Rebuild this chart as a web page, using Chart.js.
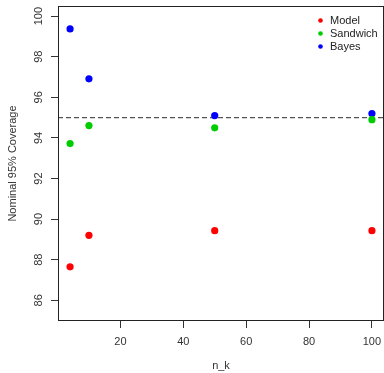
<!DOCTYPE html>
<html>
<head>
<meta charset="utf-8">
<script src="https://cdn.jsdelivr.net/npm/chart.js@4"></script>
<style>
  body { margin: 0; background: #fff; }
</style>
</head>
<body>
<canvas id="chart" width="384" height="373"></canvas>
<script>
// data
let nk = [4, 10, 50, 100];
let modelCov = [87.65, 89.2, 89.43, 89.43];
let sandwichCov = [93.72, 94.61, 94.5, 94.9];
let bayesCov = [99.37, 96.91, 95.1, 95.2];
let seriesNames = ['Model', 'Sandwich', 'Bayes'];
let seriesColors = ['#ff0000', '#00cd00', '#0000ff'];
let nominal = 95;

let font = 'Liberation Sans, Arial, sans-serif';

function toPoints(ys) {
    let pts = [];
    for (let i = 0; i < nk.length; i++) {
        pts.push({ x: nk[i], y: ys[i] });
    }
    return pts;
}

function noEdgePadding(scale) {
    scale.paddingTop = 0;
    scale.paddingBottom = 0;
    scale.paddingLeft = 0;
    scale.paddingRight = 0;
}

// box round the plot, dashed line at 95, legend in the corner
const extras = {
    id: 'extras',
    beforeDatasetsDraw(chart) {
        const ctx = chart.ctx;
        const area = chart.chartArea;
        const y = chart.scales.y.getPixelForValue(nominal);
        ctx.save();
        ctx.strokeStyle = '#555';
        ctx.lineWidth = 1.2;
        ctx.setLineDash([5, 3]);
        ctx.beginPath();
        ctx.moveTo(area.left, y);
        ctx.lineTo(area.right, y);
        ctx.stroke();
        ctx.restore();
    },
    afterDraw(chart) {
        const ctx = chart.ctx;
        const area = chart.chartArea;
        ctx.save();
        ctx.strokeStyle = '#222';
        ctx.lineWidth = 1;
        ctx.strokeRect(area.left + 0.5, area.top + 0.5, area.right - area.left - 1, area.bottom - area.top - 1);

        ctx.font = '11px ' + font;
        ctx.textBaseline = 'middle';
        ctx.textAlign = 'left';
        for (let i = 0; i < seriesNames.length; i++) {
            let ly = area.top + 14.5 + i * 13;
            ctx.fillStyle = seriesColors[i];
            ctx.beginPath();
            ctx.arc(area.right - 63.5, ly, 2.3, 0, Math.PI * 2);
            ctx.fill();
            ctx.fillStyle = '#222';
            ctx.fillText(seriesNames[i], area.right - 54, ly);
        }
        ctx.restore();
    }
};

let datasets = [modelCov, sandwichCov, bayesCov].map((ys, i) => ({
    label: seriesNames[i],
    data: toPoints(ys),
    backgroundColor: seriesColors[i],
    borderColor: seriesColors[i],
    pointRadius: 3.6,
    pointBorderWidth: 0,
    showLine: false
}));

new Chart(document.getElementById('chart'), {
    type: 'scatter',
    data: { datasets: datasets },
    options: {
        responsive: false,
        animation: false,
        events: [],
        layout: { autoPadding: false, padding: { left: 0, right: 0, top: 6, bottom: 0 } },
        plugins: {
            legend: { display: false },
            tooltip: { enabled: false }
        },
        scales: {
            x: {
                type: 'linear',
                min: 0.16,
                max: 103.84,
                afterFit(scale) { scale.height = 52; noEdgePadding(scale); },
                border: { display: false },
                grid: { drawOnChartArea: false, drawTicks: true, tickLength: 7, color: '#333' },
                ticks: {
                    stepSize: 20,
                    includeBounds: false,
                    maxRotation: 0,
                    padding: 7,
                    color: '#333',
                    font: { family: font, size: 11 }
                },
                title: {
                    display: true,
                    text: 'n_k',
                    color: '#333',
                    padding: { top: 0, bottom: 0 },
                    font: { family: font, size: 11 }
                }
            },
            y: {
                type: 'linear',
                min: 84.98,
                max: 100.5,
                afterFit(scale) { scale.width = 58; noEdgePadding(scale); },
                border: { display: false },
                grid: { drawOnChartArea: false, drawTicks: true, tickLength: 7, color: '#333' },
                ticks: {
                    stepSize: 2,
                    includeBounds: false,
                    minRotation: 90,
                    maxRotation: 90,
                    crossAlign: 'center',
                    padding: 3,
                    color: '#333',
                    font: { family: font, size: 11 }
                },
                title: {
                    display: true,
                    text: 'Nominal 95% Coverage',
                    color: '#333',
                    padding: { top: 6, bottom: 0 },
                    font: { family: font, size: 11 }
                }
            }
        }
    },
    plugins: [extras]
});
</script>
</body>
</html>
